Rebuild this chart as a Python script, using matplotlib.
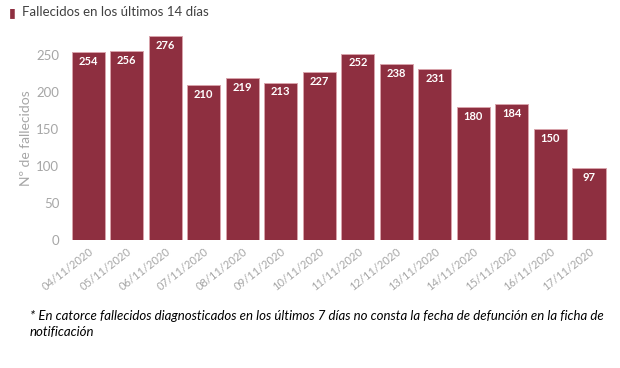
import matplotlib
matplotlib.use("Agg")
import matplotlib.pyplot as plt

plt.rcParams['font.family'] = ['Lato', 'DejaVu Sans']

dates = ["04/11/2020", "05/11/2020", "06/11/2020", "07/11/2020", "08/11/2020",
         "09/11/2020", "10/11/2020", "11/11/2020", "12/11/2020", "13/11/2020",
         "14/11/2020", "15/11/2020", "16/11/2020", "17/11/2020"]
deaths = [254, 256, 276, 210, 219, 213, 227, 252, 238, 231, 180, 184, 150, 97]
yticks = [0, 50, 100, 150, 200, 250]

bar_color = "#8e2f40"
gray = "#a6a6a6"

fig = plt.figure(figsize=(6.2, 3.68), dpi=100)
ax = fig.add_axes([0.1113, 0.348, 0.8697, 0.562])

x = list(range(len(dates)))
bars = ax.bar(x, deaths, width=0.86, color=bar_color, edgecolor="#d8a3ab", linewidth=0.7)
for xi, v in zip(x, deaths):
    ax.text(xi, v - 5, str(v), ha="center", va="top", color="white", fontsize=8, fontweight="bold")

ax.set_xlim(-0.5, len(dates) - 0.5)
ax.set_ylim(0, 280)
ax.set_yticks(yticks)
ax.set_yticklabels([str(t) for t in yticks], color=gray, fontsize=9.5)
ax.set_xticks(x)
ax.set_xticklabels(dates, rotation=38, ha="right", rotation_mode="anchor", color=gray, fontsize=8)
ax.tick_params(axis="both", length=0, pad=4)
ax.tick_params(axis="y", pad=7)
ax.set_ylabel("Nº de fallecidos", color=gray, fontsize=10)
ax.yaxis.set_label_coords(-0.068, 0.49)
for s in ax.spines.values():
    s.set_visible(False)

# legend
fig.text(0.014, 0.965, "▮", color=bar_color, fontsize=9, va="center", ha="left", family="DejaVu Sans")
fig.text(0.035, 0.967, "Fallecidos en los últimos 14 días", color="#404040", fontsize=9.5, va="center", ha="left")

fig.text(0.048, 0.12, "* En catorce fallecidos diagnosticados en los últimos 7 días no consta la fecha de defunción en la ficha de\nnotificación",
         fontsize=9.5, style="italic", color="black", va="center", ha="left", linespacing=1.45)

fig.savefig("out.png", dpi=100)
